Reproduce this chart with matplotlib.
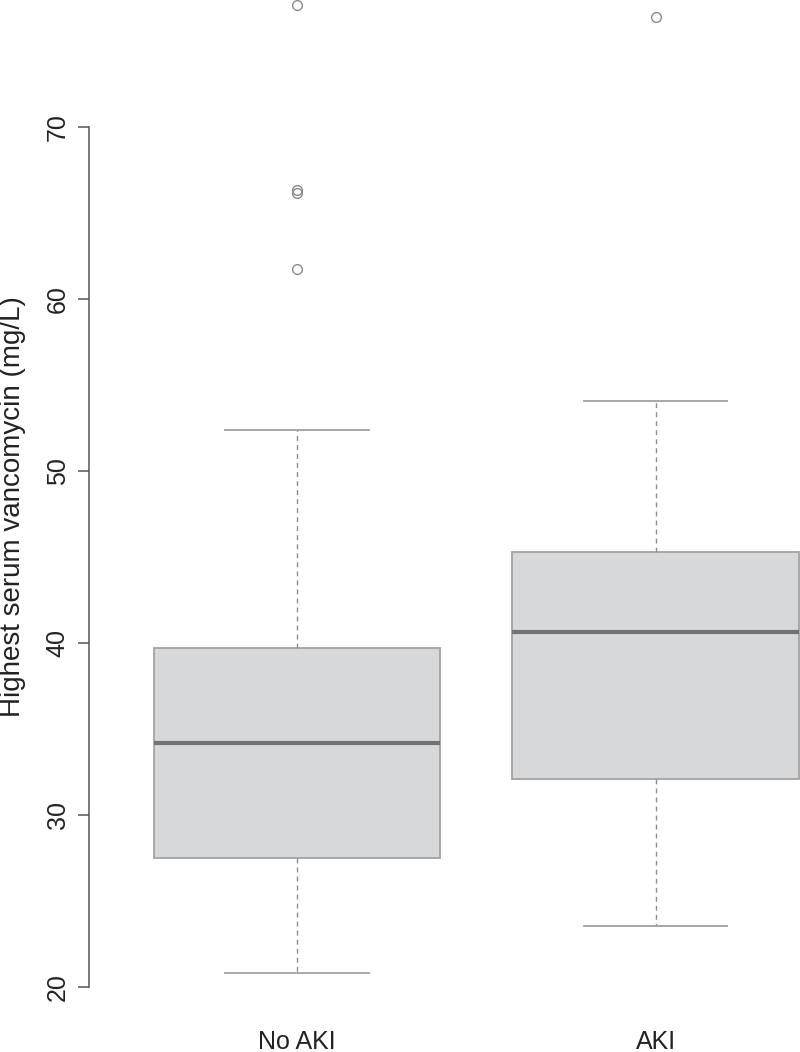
import matplotlib
matplotlib.use("Agg")
import matplotlib.pyplot as plt

plt.rcParams['font.family'] = ['Liberation Sans', 'DejaVu Sans']

# ================= DATA =================
groups = ["No AKI", "AKI"]
whisker_low = [20.8, 23.5]
q1 = [27.5, 32.1]
median = [34.15, 40.65]
q3 = [39.7, 45.3]
whisker_high = [52.35, 54.05]
outliers = [[61.75, 66.15, 66.35, 77.1], [76.4]]

y_ticks = [20, 30, 40, 50, 60, 70]

# ================= STYLE =================
BOX_FILL = "#d7d8da"
BOX_EDGE = "#a2a2a2"
MED_COL = "#727272"
WHISK_COL = "#8e8e8e"
CAP_COL = "#a0a0a0"
AXIS_COL = "#555555"

fig = plt.figure(figsize=(8, 10.52), dpi=100)
# plot region (R-style) runs past the right and top edges of the figure
ax = fig.add_axes([89 / 800, 40.4 / 1052, 774.6 / 800, 1045.6 / 1052])

stats = []
for i in range(len(groups)):
    stats.append(dict(label=groups[i], whislo=whisker_low[i], q1=q1[i],
                      med=median[i], q3=q3[i], whishi=whisker_high[i],
                      fliers=outliers[i]))

ax.bxp(stats, positions=[1, 2], widths=0.8, capwidths=0.4,
       patch_artist=True, showfliers=True,
       boxprops=dict(facecolor=BOX_FILL, edgecolor=BOX_EDGE, linewidth=1.3),
       medianprops=dict(color=MED_COL, linewidth=3),
       whiskerprops=dict(color=WHISK_COL, linewidth=1, linestyle=(0, (3.5, 3))),
       capprops=dict(color=CAP_COL, linewidth=1.3),
       flierprops=dict(marker='o', markerfacecolor='none', markeredgecolor='#8a8a8a',
                       markersize=7, markeredgewidth=1, clip_on=False))

ax.set_xlim(0.42, 2.58)
ax.set_ylim(18.55, 79.35)

for s in ['top', 'right', 'bottom']:
    ax.spines[s].set_visible(False)
ax.spines['left'].set_bounds(20, 70)
ax.spines['left'].set_color(AXIS_COL)
ax.spines['left'].set_linewidth(1.1)

ax.set_yticks(y_ticks)
ax.set_yticklabels([str(t) for t in y_ticks], rotation=90, va='center')
ax.tick_params(axis='y', length=8, width=1.1, color=AXIS_COL, pad=6,
               labelsize=18, labelcolor='#222222')
ax.tick_params(axis='x', length=0, pad=13, labelsize=18, labelcolor='#222222')

# y label placed by hand (centre ~ x=13px, y=507px)
ax.set_ylabel("Highest serum vancomycin (mg/L)", fontsize=20, color='#222222')
ax.yaxis.set_label_coords(-0.098, 1 - (507 + 34) / 1045.6)
ax.yaxis.label.set_verticalalignment('center')

fig.savefig("out.png", dpi=100)
